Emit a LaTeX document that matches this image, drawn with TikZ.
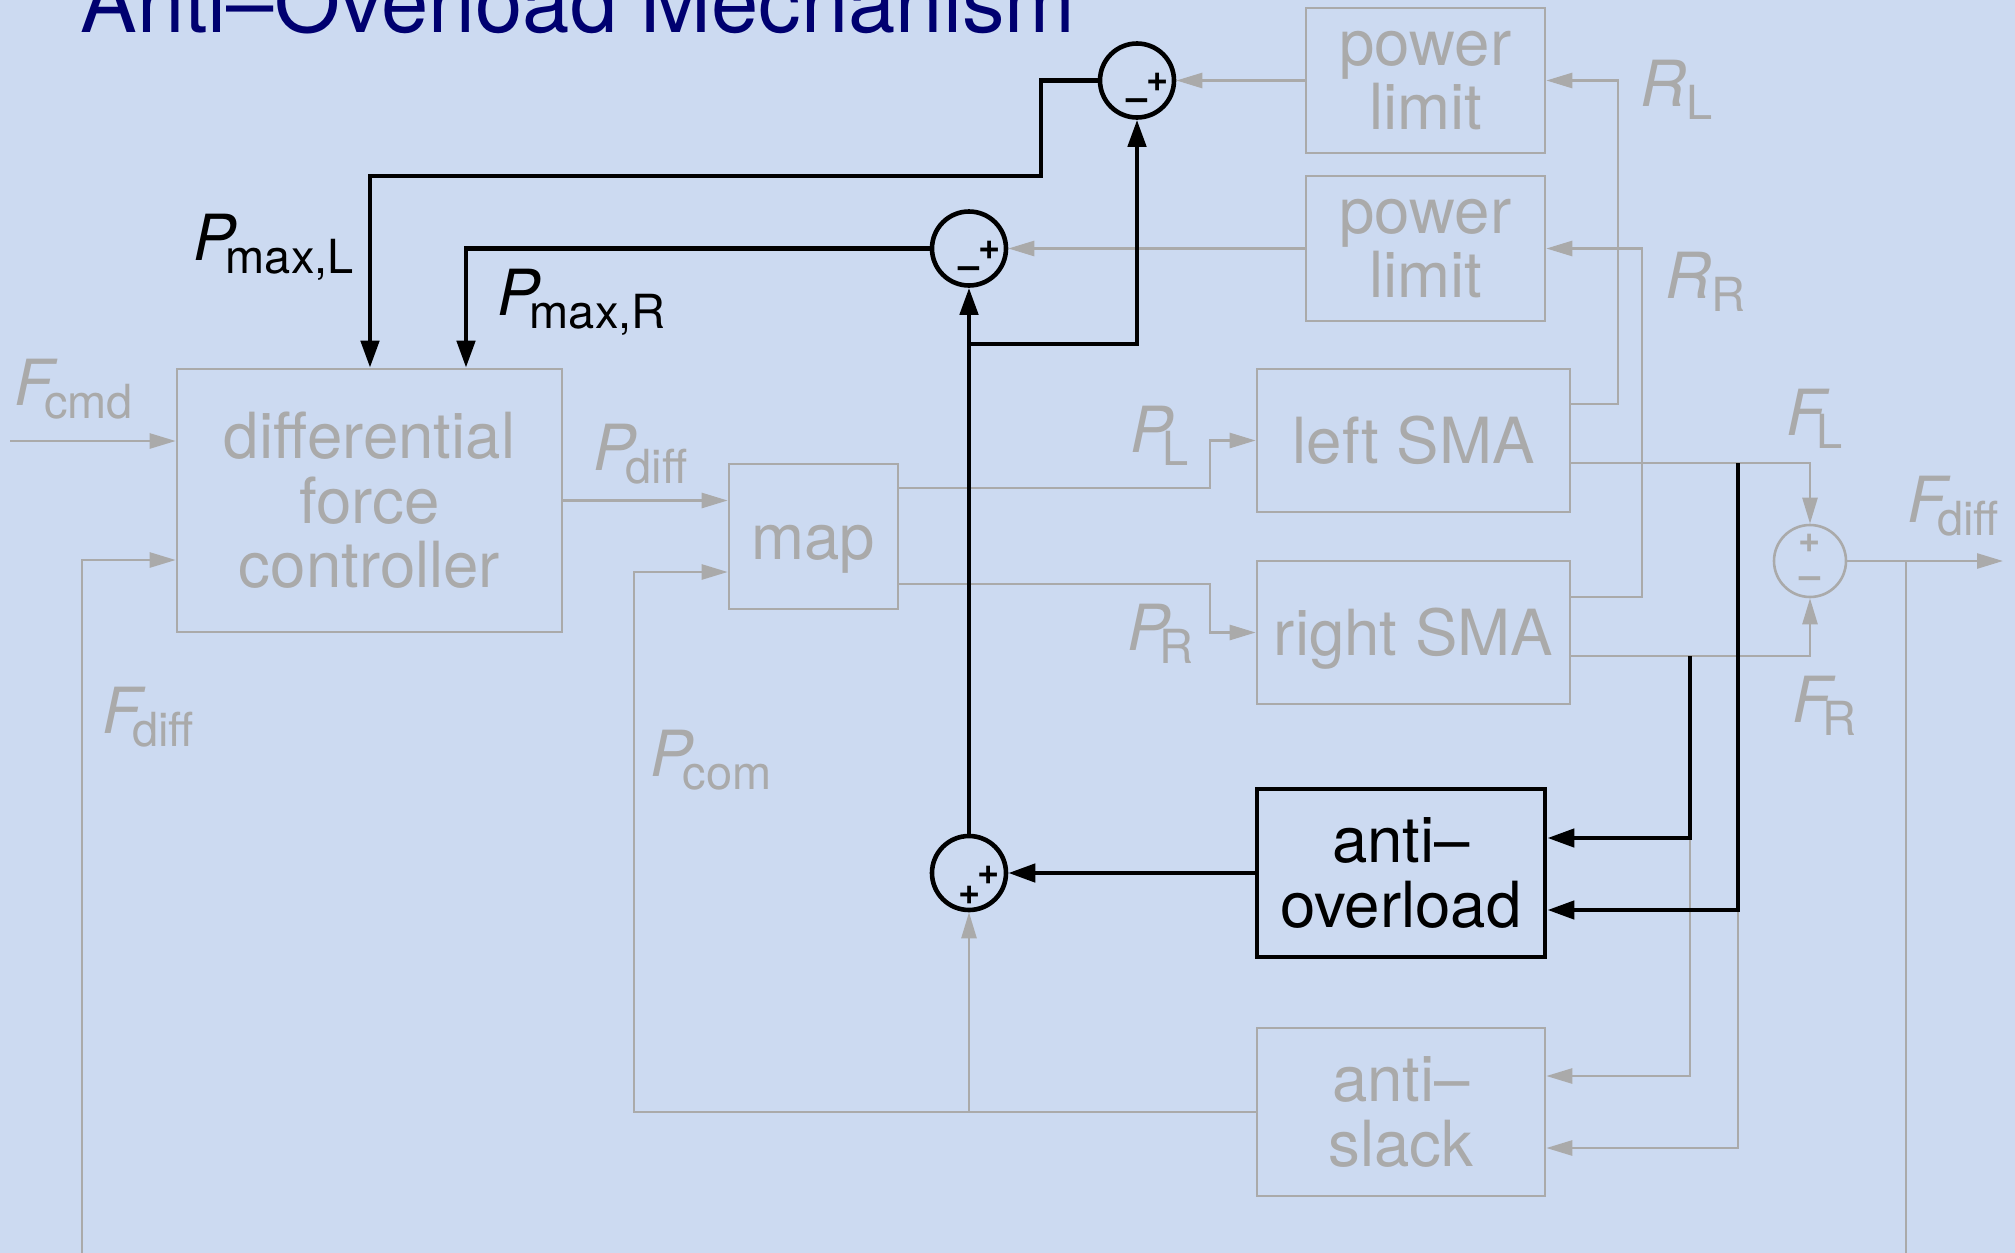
\documentclass[tikz,border=0pt]{standalone}
\usepackage{fontspec}
\setmainfont{TeX Gyre Heros}
\usepackage{tikz}
\usetikzlibrary{arrows.meta}
\definecolor{slidebg}{RGB}{204,218,241}
\definecolor{dimgray}{RGB}{170,170,170}
\definecolor{titleblue}{RGB}{0,0,112}
\newcommand{\sigsub}[3][-5pt]{{\itshape #2}\kern#1\raisebox{-6.5pt}{\fontsize{23.5}{23.5}\selectfont #3}}

\begin{document}
\begin{tikzpicture}[
  x=0.5pt, y=-0.5pt,
  every node/.style={font=\fontsize{31.8}{32.2}\selectfont},
  block/.style={draw=dimgray, line width=1.3pt, text=dimgray, align=center, inner sep=0pt},
  hiblock/.style={draw=black, line width=2.4pt, align=center, inner sep=0pt},
  oneline/.style={text height=23pt, text depth=0pt},
  sumnode/.style={circle, draw=black, line width=2.3pt, minimum size=37pt, inner sep=0pt},
  dimsum/.style={circle, draw=dimgray, line width=1.3pt, minimum size=36pt, inner sep=0pt},
  sign/.style={inner sep=0pt, font=\fontsize{19}{19}\selectfont\bfseries},
  sig/.style={anchor=base west, inner sep=0pt, text=dimgray},
  hisig/.style={anchor=base west, inner sep=0pt},
  gline/.style={draw=dimgray, line width=1.3pt},
  garrow/.style={gline, -{Triangle[length=13pt,width=7.5pt]}},
  barrow/.style={draw=black, line width=2.3pt, -{Triangle[length=13.5pt,width=9pt]}}
]
\useasboundingbox (0,0) rectangle (2015,1253);
\clip (0,0) rectangle (2015,1253);
\fill[slidebg] (0,0) rectangle (2015,1253);

\node[anchor=base west, inner sep=0pt, text=titleblue, font=\fontsize{42.5}{42.5}\selectfont] (title) at (80,32) {Anti--Overload Mechanism};

% blocks
\node[block, minimum width=192.5pt, minimum height=131.5pt] (dfc) at (369.5,500.5) {differential\\force\\controller};
\node[block, oneline, minimum width=84.5pt, minimum height=72.5pt] (map) at (813.5,536.5) {map};
\node[block, oneline, minimum width=156.5pt, minimum height=71.5pt] (lsma) at (1413.5,440.5) {left SMA};
\node[block, oneline, minimum width=156.5pt, minimum height=71.5pt] (rsma) at (1413.5,632.5) {right SMA};
\node[block, minimum width=119.5pt, minimum height=72.5pt] (plimL) at (1425.5,80.5) {power\\limit};
\node[block, minimum width=119.5pt, minimum height=72.5pt] (plimR) at (1425.5,248.5) {power\\limit};
\node[hiblock, minimum width=144pt, minimum height=84pt] (aover) at (1401,873) {anti--\\overload};
\node[block, minimum width=144pt, minimum height=84pt] (aslack) at (1401,1112) {anti--\\slack};

% summing junctions
\node[sumnode] (sumL) at (1137,80.5) {};
\node[sumnode] (sumR) at (969,248.5) {};
\node[sumnode] (sumA) at (969,873) {};
\node[dimsum] (sumF) at (1810,561) {};
\node[sign] (sumLp) at ([shift={(21,2)}]sumL) {+};
\node[sign] (sumLm) at ([shift={(0,24)}]sumL) {--};
\node[sign] (sumRp) at ([shift={(21,2)}]sumR) {+};
\node[sign] (sumRm) at ([shift={(0,24)}]sumR) {--};
\node[sign] (sumAp) at ([shift={(20,2)}]sumA) {+};
\node[sign] (sumAq) at ([shift={(1,22)}]sumA) {+};
\node[sign, text=dimgray] (sumFp) at ([shift={(0,-18)}]sumF) {+};
\node[sign, text=dimgray] (sumFm) at ([shift={(0,22)}]sumF) {--};

% signal labels
\node[sig] (lblFcmd) at (14,405) {\sigsub[-4.5pt]{F}{cmd}};
\node[sig] (lblFdiffL) at (102,733) {\sigsub[-4.5pt]{F}{diff}};
\node[sig] (lblPdiff) at (593,470) {\sigsub{P}{diff}};
\node[sig] (lblPcom) at (650,776) {\sigsub{P}{com}};
\node[sig] (lblPL) at (1130,452) {\sigsub{P}{L}};
\node[sig] (lblPR) at (1127,650) {\sigsub{P}{R}};
\node[sig] (lblRL) at (1640,106) {\sigsub[0pt]{R}{L}};
\node[sig] (lblRR) at (1665,298) {\sigsub[0pt]{R}{R}};
\node[sig] (lblFL) at (1786,435) {\sigsub[-4.5pt]{F}{L}};
\node[sig] (lblFR) at (1792,722) {\sigsub[-4.5pt]{F}{R}};
\node[sig] (lblFdiffR) at (1907,522) {\sigsub[-4.5pt]{F}{diff}};
\node[hisig] (lblPmaxL) at (193,260) {\sigsub{P}{max,L}};
\node[hisig] (lblPmaxR) at (497,315) {\sigsub{P}{max,R}};

% corner points
\coordinate (fcmdin) at (10,441);
\coordinate (fbin) at (82,560);
\coordinate (fdiffj) at (1906,561);
\coordinate (fdown) at (1906,1300);
\coordinate (fout) at (2003,561);
\coordinate (pcomc) at (634,572);
\coordinate (pl) at (1210,488);
\coordinate (pr) at (1210,584);
\coordinate (rl) at (1618,404);
\coordinate (rr) at (1642,597);
\coordinate (tapL) at (1738,463);
\coordinate (tapR) at (1690,656);
\coordinate (pmlA) at (1041,176);
\coordinate (pmlB) at (370,176);
\coordinate (pmrA) at (466,248.5);
\coordinate (jnc) at (969,344);

% grey signal paths
\draw[garrow] (fcmdin) -- (fcmdin -| dfc.west);
\draw[garrow] (fdiffj) -- (fdown) -| (fbin) -- (fbin -| dfc.west);
\draw[garrow] (dfc.east) -- (dfc.east -| map.west);
\draw[garrow] (aslack.west) -| (pcomc) -- (pcomc -| map.west);
\draw[garrow] (sumA |- aslack.west) -- (sumA.south);
\draw[garrow] (map.east |- pl) -- (pl) |- (lsma.west);
\draw[garrow] (map.east |- pr) -- (pr) |- (rsma.west);
\draw[garrow] (lsma.east |- rl) -- (rl) |- (plimL.east);
\draw[garrow] (rsma.east |- rr) -- (rr) |- (plimR.east);
\draw[garrow] (lsma.east |- tapL) -| (sumF.north);
\draw[garrow] (rsma.east |- tapR) -| (sumF.south);
\draw[garrow] (sumF.east) -- (fout);
\draw[garrow] (plimL.west) -- (sumL.east);
\draw[garrow] (plimR.west) -- (sumR.east);
\draw[garrow] (tapR) |- (aslack.east |- 0,1076);
\draw[garrow] (tapL) |- (aslack.east |- 0,1148);

% anti-overload paths
\draw[barrow] (tapR) |- (aover.east |- 0,838);
\draw[barrow] (tapL) |- (aover.east |- 0,910);
\draw[barrow] (aover.west) -- (sumA.east);
\draw[barrow] (sumA.north) -- (sumR.south);
\draw[barrow] (jnc) -| (sumL.south);
\draw[barrow] (sumL.west) -| (pmlA) -- (pmlB) -- (pmlB |- dfc.north);
\draw[barrow] (sumR.west) -- (pmrA) -- (pmrA |- dfc.north);
\end{tikzpicture}
\end{document}
